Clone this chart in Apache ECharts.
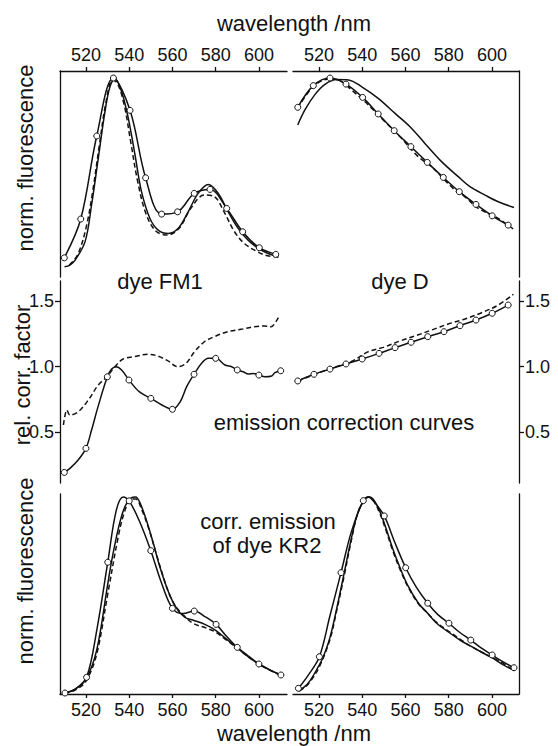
<!DOCTYPE html>
<html><head><meta charset="utf-8">
<script src="https://cdn.jsdelivr.net/npm/echarts@6/dist/echarts.min.js"></script>
<style>html,body{margin:0;padding:0;background:#fff}#c{width:558px;height:746px}</style>
</head><body><div id="c"></div>
<script>
// ---------- tick labels ----------
const xTicks = [520, 540, 560, 580, 600];
const corrTicks = [0.5, 1.0, 1.5];

// ---------- top-left: emission of dye FM1 ----------
const fm1EmMarked = [[510.0,0.054],[517.6,0.258],[525.0,0.695],[532.7,1.0],[540.4,0.83],[547.6,0.475],[555.0,0.284],[562.4,0.296],[570.1,0.393],[577.4,0.414],[585.1,0.314],[592.5,0.191],[600.2,0.107],[607.8,0.072]];
const fm1EmSolid = [[510.1,0.007],[512.6,0.016],[515.0,0.042],[519.6,0.139],[522.6,0.332],[525.7,0.577],[528.8,0.823],[531.1,0.954],[533.4,0.997],[536.5,0.928],[539.6,0.788],[542.7,0.595],[545.7,0.402],[549.6,0.261],[553.4,0.2],[558.1,0.182],[562.7,0.209],[567.3,0.296],[571.9,0.393],[576.6,0.44],[581.2,0.393],[585.8,0.296],[590.4,0.209],[595.0,0.147],[599.7,0.104],[604.3,0.077],[608.9,0.06]];
const fm1EmDashed = [[512.3,0.016],[516.1,0.068],[520.0,0.209],[523.1,0.402],[526.2,0.647],[529.3,0.875],[532.3,0.99],[534.6,0.972],[537.7,0.858],[540.7,0.665],[543.8,0.463],[547.7,0.288],[552.3,0.195],[557.7,0.174],[563.1,0.209],[568.5,0.314],[574.7,0.384],[579.3,0.377],[583.9,0.296],[588.5,0.195],[593.2,0.13],[599.3,0.086],[604.0,0.065],[610.2,0.058]];

// ---------- top-right: emission of dye D ----------
const dEmMarked = [[510.2,0.846],[517.4,0.96],[525.1,1.0],[532.5,0.968],[540.2,0.898],[547.4,0.811],[554.8,0.723],[562.5,0.639],[570.1,0.556],[577.5,0.477],[584.9,0.402],[592.6,0.335],[600.1,0.275],[607.5,0.226]];
const dEmSolid = [[510.2,0.753],[513.5,0.832],[518.2,0.914],[522.8,0.967],[528.2,0.992],[533.6,0.99],[539.8,0.954],[547.4,0.893],[555.2,0.814],[562.1,0.744],[569.0,0.656],[576.7,0.56],[584.4,0.481],[589.8,0.428],[596.8,0.384],[602.9,0.349],[610.2,0.319]];
const dEmDashed = [[510.2,0.84],[517.4,0.955],[525.1,0.995],[530.0,0.985],[535.1,0.937],[541.3,0.875],[550.5,0.77],[557.5,0.691],[565.9,0.586],[572.1,0.533],[582.9,0.41],[587.5,0.375],[593.7,0.314],[602.9,0.261],[609.9,0.205]];

// ---------- middle-left: correction curves, dye FM1 ----------
const fm1CorrMarked = [[510.0,0.191],[520.0,0.375],[529.9,0.923],[539.9,0.898],[550.0,0.758],[560.0,0.674],[570.0,0.942],[580.0,1.064],[590.0,0.975],[600.0,0.936],[610.1,0.969]];
const fm1CorrUnmarked = [[512.6,0.222],[516.4,0.286],[522.6,0.515],[525.7,0.70],[531.9,0.982],[533.9,1.0],[536.5,0.975],[544.6,0.809],[555.1,0.707],[563.6,0.732],[566.6,0.847],[573.5,1.026],[576.6,1.064],[584.3,1.013],[587.4,1.0],[592.8,0.962],[595.1,0.944],[597.4,0.949],[602.8,0.923],[605.9,0.929],[607.4,0.954]];
const fm1CorrDashed = [[509.6,0.554],[511.2,0.668],[512.6,0.63],[516.4,0.655],[521.1,0.745],[525.7,0.86],[529.4,0.919],[533.2,0.995],[537.0,1.057],[542.4,1.077],[548.6,1.095],[553.2,1.082],[557.8,1.046],[562.5,1.0],[566.3,1.026],[570.2,1.115],[574.8,1.191],[579.4,1.23],[585.6,1.268],[591.7,1.286],[597.9,1.306],[602.5,1.312],[605.6,1.306],[607.9,1.345],[609.0,1.375]];

// ---------- middle-right: correction curves, dye D ----------
const dCorrMarked = [[510.2,0.891],[517.7,0.942],[525.1,0.982],[532.5,1.021],[540.0,1.059],[547.8,1.102],[555.2,1.146],[562.6,1.187],[570.3,1.23],[577.8,1.268],[585.2,1.314],[592.6,1.357],[600.1,1.409],[607.5,1.472]];
const dCorrDashed = [[510.2,0.891],[525.1,0.985],[535.0,1.04],[542.8,1.115],[549.8,1.148],[557.5,1.197],[565.2,1.24],[572.1,1.281],[579.8,1.327],[587.5,1.365],[595.2,1.413],[602.9,1.472],[609.9,1.554]];

// ---------- bottom-left: corrected KR2 emission (FM1 set) ----------
const kr2FmMarked = [[510.3,0.0],[520.3,0.08],[530.1,0.667],[540.0,0.98],[550.0,0.726],[560.0,0.432],[570.1,0.418],[580.2,0.35],[590.0,0.233],[600.0,0.148],[610.2,0.092]];
const kr2FmUnmarked = [[515,0.02],[525,0.32],[534,0.93],[537.3,1.0],[545,0.87],[555,0.56],[565,0.405],[575,0.39],[585,0.29],[595,0.19],[605,0.118]];
const kr2FmSolid = [[510,0.0],[515,0.02],[520,0.07],[525,0.22],[530,0.55],[532,0.68],[535,0.84],[538,0.95],[541,0.995],[543,1.0],[545,0.97],[548,0.88],[551,0.77],[554,0.65],[557,0.55],[560,0.47],[563,0.415],[566,0.385],[570,0.37],[575,0.35],[580,0.32],[585,0.275],[590,0.23],[595,0.185],[600,0.148],[605,0.118],[610,0.092]];
const kr2FmDashed = [[510,0.0],[515,0.015],[520,0.06],[525,0.2],[530,0.5],[535,0.8],[538,0.93],[541,0.99],[543,0.99],[546,0.93],[549,0.84],[552,0.73],[555,0.62],[558,0.52],[561,0.45],[565,0.398],[569.7,0.355],[576,0.33],[580,0.31],[585,0.27],[590,0.228],[595,0.185],[600,0.148],[605,0.117],[610,0.09]];

// ---------- bottom-right: corrected KR2 emission (D set) ----------
const kr2DMarked = [[510.5,0.024],[520.2,0.185],[530.2,0.614],[540.5,0.981],[550.2,0.903],[560.1,0.639],[570.3,0.458],[580.1,0.356],[590.2,0.27],[600.1,0.194],[610.2,0.129]];
const kr2DUnmarked = [[515,0.09],[525,0.39],[535,0.823],[542.8,1.0],[545.5,0.975],[555,0.77],[565,0.54],[575,0.40],[585,0.31],[595,0.23],[605,0.16]];
const kr2DSolid = [[510.5,0.01],[515,0.05],[520,0.14],[522,0.185],[525,0.28],[528,0.42],[531.7,0.614],[535,0.79],[538,0.92],[541,0.985],[543,1.0],[545,0.99],[548,0.93],[551,0.84],[554,0.74],[557.5,0.639],[561,0.55],[566,0.458],[570,0.41],[574.4,0.356],[580,0.31],[585.2,0.27],[590,0.24],[597.6,0.194],[600,0.18],[605,0.145],[610.2,0.115]];
const kr2DDashed = [[511,0.01],[515,0.045],[520,0.13],[525,0.27],[528,0.41],[531.7,0.6],[535,0.78],[538,0.92],[541,0.985],[543,1.0],[545,0.985],[548,0.92],[551,0.83],[554,0.73],[557.5,0.63],[561,0.545],[566,0.455],[570,0.41],[574.4,0.36],[580,0.315],[585.2,0.275],[590,0.24],[597.6,0.195],[603,0.165],[610.2,0.115]];

// ---------- layout ----------
const INK = '#111';
const FONT = '"Liberation Sans", Arial, Helvetica, sans-serif';
const grids = [
  {left:60,  top:71,  width:227, height:206},
  {left:293, top:71,  width:226, height:206},
  {left:60,  top:281, width:227, height:202},
  {left:293, top:281, width:226, height:202},
  {left:60,  top:494, width:227, height:200},
  {left:293, top:494, width:226, height:200}
];
const yRanges = [[-0.047,1.037],[-0.047,1.037],[0.11,1.656],[0.11,1.656],[-0.005,1.015],[-0.005,1.015]];
const lineSt = {color: INK, width: 1.3};

function xAxisFor(i) {
  const row = Math.floor(i / 2);
  const show = row !== 1;
  return {
    gridIndex: i, type: 'value', min: 508, max: (i % 2) ? 612.5 : 613,
    position: row === 0 ? 'top' : 'bottom',
    show: show,
    axisLine: {show: show, onZero: false, lineStyle: lineSt},
    axisTick: {show: show, length: 4, customValues: xTicks, lineStyle: lineSt},
    axisLabel: {show: show, customValues: xTicks, margin: 7, fontSize: 18, fontFamily: FONT, color: INK},
    splitLine: {show: false}
  };
}
function yAxisFor(i) {
  const row = Math.floor(i / 2);
  const right = (i % 2) === 1;
  const labelled = row === 1;
  return {
    gridIndex: i, type: 'value', min: yRanges[i][0], max: yRanges[i][1],
    position: right ? 'right' : 'left',
    axisLine: {show: true, onZero: false, lineStyle: lineSt},
    axisTick: {show: labelled, length: 5, customValues: corrTicks, lineStyle: lineSt},
    axisLabel: {show: labelled, customValues: corrTicks, margin: 6, fontSize: 18, fontFamily: FONT, color: INK,
                formatter: v => Number(v).toFixed(1)},
    splitLine: {show: false}
  };
}
function plain(i, data, dashed) {
  return {
    type: 'line', xAxisIndex: i, yAxisIndex: i, data: data, smooth: 0.35,
    symbol: 'none', showSymbol: false, silent: true, z: 2,
    lineStyle: {color: INK, width: 1.5, type: dashed ? [5, 3] : 'solid'}
  };
}
function marked(i, markers, others) {
  const pts = markers.map(p => ({value: p, symbol: 'circle'}))
    .concat((others || []).map(p => ({value: p, symbol: 'none'})))
    .sort((a, b) => a.value[0] - b.value[0]);
  return {
    type: 'line', xAxisIndex: i, yAxisIndex: i, data: pts, smooth: 0.35,
    showSymbol: true, showAllSymbol: true, symbolSize: 6, silent: true, z: 3,
    itemStyle: {color: '#fff', borderColor: INK, borderWidth: 1},
    lineStyle: {color: INK, width: 1.5}
  };
}
function txt(x, y, s, rot) {
  return {type: 'text', x: x, y: y, rotation: rot || 0, silent: true,
    style: {text: s, fontSize: 22, fontFamily: FONT, fill: INK, align: 'center', verticalAlign: 'middle'}};
}

const chart = echarts.init(document.getElementById('c'), null, {renderer: 'svg'});
chart.setOption({
  animation: false,
  backgroundColor: '#fff',
  grid: grids,
  xAxis: [0,1,2,3,4,5].map(xAxisFor),
  yAxis: [0,1,2,3,4,5].map(yAxisFor),
  series: [
    plain(0, fm1EmSolid, false), plain(0, fm1EmDashed, true), marked(0, fm1EmMarked),
    plain(1, dEmSolid, false), plain(1, dEmDashed, true), marked(1, dEmMarked),
    plain(2, fm1CorrDashed, true), marked(2, fm1CorrMarked, fm1CorrUnmarked),
    plain(3, dCorrDashed, true), marked(3, dCorrMarked),
    plain(4, kr2FmSolid, false), plain(4, kr2FmDashed, true), marked(4, kr2FmMarked, kr2FmUnmarked),
    plain(5, kr2DSolid, false), plain(5, kr2DDashed, true), marked(5, kr2DMarked, kr2DUnmarked)
  ],
  graphic: {elements: [
    txt(294, 23, 'wavelength /nm'),
    txt(294, 733, 'wavelength /nm'),
    txt(25, 158, 'norm. fluorescence', Math.PI / 2),
    txt(22, 375, 'rel. corr. factor', Math.PI / 2),
    txt(25, 571, 'norm. fluorescence', Math.PI / 2),
    txt(160, 281, 'dye FM1'),
    txt(400, 281, 'dye D'),
    txt(344, 422, 'emission correction curves'),
    txt(268, 521, 'corr. emission'),
    txt(267, 545, 'of dye KR2')
  ]}
});
</script>
</body></html>
